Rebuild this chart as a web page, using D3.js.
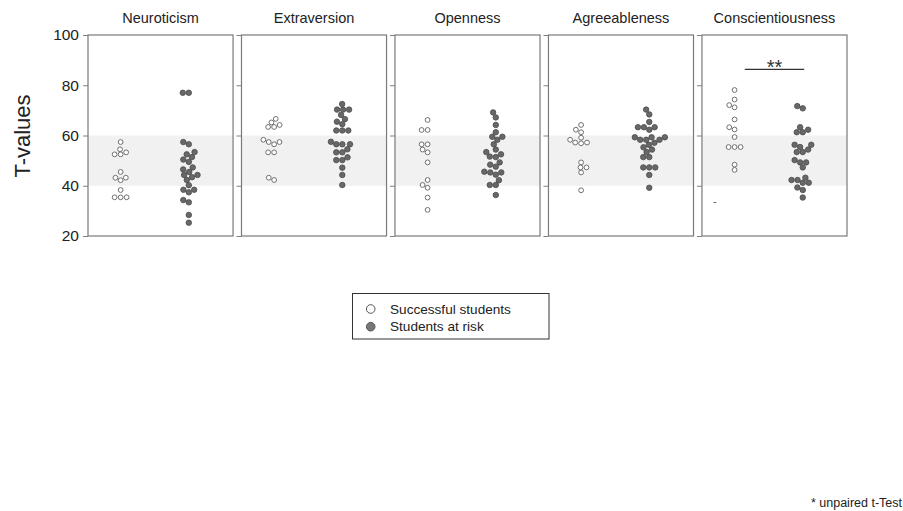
<!DOCTYPE html>
<html><head><meta charset="utf-8">
<script src="https://cdn.jsdelivr.net/npm/d3@7"></script>
<style>
html,body{margin:0;padding:0;background:#fff;}
svg{display:block;font-family:"Liberation Sans",Arial,sans-serif;}
</style></head>
<body>
<svg id="chart" width="903" height="511"></svg>
<script>
// ---- data ----
const traits = ["Neuroticism","Extraversion","Openness","Agreeableness","Conscientiousness"];
const groups = ["Successful students","Students at risk"];
const yTicks = [20,40,60,80,100];
const normBand = [40,60];

const successful = {
  Neuroticism:      [57.4,54.5,53.3,52.5,52.5,45.5,43.2,43.2,42.2,38.3,35.4,35.4,35.4],
  Extraversion:     [66.6,65.2,64.2,63.4,63.4,58.3,57.4,57.4,56.5,53.3,53.3,43.2,42.3],
  Openness:         [66.2,62.2,62.2,56.5,56.5,54.4,53.3,49.3,42.3,40.3,39.2,35.3,30.4],
  Agreeableness:    [64.2,62.3,61.3,59.1,58.3,57.2,57.2,56.9,49.3,47.3,47.3,45.3,38.2],
  Conscientiousness:[78.1,74.3,72.1,71.2,66.4,63.3,62.4,59.4,55.4,55.4,55.4,48.4,46.3]
};
const atRisk = {
  Neuroticism:      [77,77,57.4,56.5,53.4,52.5,51.4,50.4,49.5,47.3,46.5,45.5,44.3,44.3,43.4,42.3,40.2,38.4,38.4,37.4,34.3,33.4,28.4,25.3],
  Extraversion:     [72.5,70.3,70.3,70.3,68.2,66.5,65.5,64.5,62,62,62,57.5,56.5,56.5,56.5,54.5,53.3,53.3,51.3,50.2,50.2,47.2,44.3,40.3],
  Openness:         [69.2,67.2,64.2,61.3,59.5,59.5,58.3,56.5,54.4,53.4,52.5,51.6,51.4,49.3,48.4,47.6,45.6,45.3,45.3,44.4,42.2,40.3,40.3,36.3],
  Agreeableness:    [70.3,68.4,65.4,63.3,63.3,63.3,62.3,59.3,59.3,59.3,58.3,58.3,58.3,57.1,56.3,55.3,54.4,53.4,51.4,51.4,47.3,47.3,47.3,44.3,39.2],
  Conscientiousness:[71.7,70.8,63.3,62.3,61.3,61.3,56.3,56.3,55.4,54.4,53.4,53.4,50.2,49.3,49.3,47.3,43.2,42.3,42.3,41.2,41.2,39.3,38.3,35.3]
};
const significance = [{trait:"Conscientiousness", level:86.3, label:"**"}];
const footnote = "* unpaired t-Test";

// ---- layout ----
const svg = d3.select("#chart");
const y = d3.scaleLinear().domain([20,100]).range([236,35]);
const panel = d3.scaleBand().domain(traits).range([88,847]).paddingInner(0.055).paddingOuter(0);
const bw = panel.bandwidth();
const gx = d3.scalePoint().domain(groups).range([0.225*bw, 0.695*bw]);

function swarm(vals, dx, dy){
  const pts = vals.map(v=>({v, y:y(v)})).sort((a,b)=>a.v-b.v);
  const placed = [];
  pts.forEach(p=>{
    const near = placed.filter(q=>Math.abs(q.y-p.y) < dy);
    const cands = [0];
    near.forEach(q=>{
      const t = (q.y-p.y)/dy;
      const w = dx*Math.sqrt(1-t*t);
      cands.push(q.x - w, q.x + w);
    });
    cands.sort((a,b)=>Math.abs(a)-Math.abs(b) || a-b);
    let chosen = 0;
    for (const c of cands){
      const ok = near.every(q=>{
        const a=(q.x-c)/dx, b=(q.y-p.y)/dy;
        return a*a+b*b >= 0.999;
      });
      if (ok){ chosen=c; break; }
    }
    p.x = chosen;
    placed.push(p);
  });
  return placed;
}

traits.forEach((t,i)=>{
  const g = svg.append("g").attr("transform",`translate(${panel(t)},0)`);
  g.append("rect").attr("x",0).attr("width",bw)
    .attr("y",y(normBand[1])).attr("height",y(normBand[0])-y(normBand[1]))
    .attr("fill","#f1f1f1");
  const ax = d3.axisLeft(y).tickValues(yTicks).tickSize(5).tickSizeOuter(0)
    .tickFormat(i===0 ? d3.format("d") : "");
  const axg = g.append("g").call(ax);
  axg.select(".domain").remove();
  axg.selectAll(".tick line").attr("stroke","#808080").attr("stroke-width",1);
  axg.selectAll(".tick text").attr("font-size",15.5).attr("fill","#222")
     .attr("font-family","'Liberation Sans',Arial,sans-serif").attr("dx",-1);
  g.append("rect").attr("x",0).attr("y",y(100)).attr("width",bw).attr("height",y(20)-y(100))
    .attr("fill","none").attr("stroke","#7a7a7a").attr("stroke-width",1.2);
  g.append("text").attr("x",bw/2).attr("y",23).attr("text-anchor","middle")
    .attr("font-size",14.5).attr("fill","#222").text(t);
  const s = swarm(successful[t], 6, 5.05);
  g.selectAll("circle.s").data(s).join("circle").attr("class","s")
    .attr("cx",d=>gx(groups[0])+d.x).attr("cy",d=>d.y).attr("r",2.4)
    .attr("fill","#fff").attr("stroke","#707070").attr("stroke-width",1);
  const r = swarm(atRisk[t], 6, 5.6);
  g.selectAll("circle.r").data(r).join("circle").attr("class","r")
    .attr("cx",d=>gx(groups[1])+d.x).attr("cy",d=>d.y).attr("r",2.75)
    .attr("fill","#686868").attr("stroke","#4a4a4a").attr("stroke-width",0.8);
  significance.filter(d=>d.trait===t).forEach(d=>{
    const x1 = gx(groups[0])+0.07*bw, x2 = gx(groups[1])+0.01*bw;
    g.append("line").attr("x1",x1).attr("x2",x2).attr("y1",y(d.level)).attr("y2",y(d.level))
      .attr("stroke","#333").attr("stroke-width",1.2);
    g.append("text").attr("x",(x1+x2)/2).attr("y",y(d.level)+5).attr("text-anchor","middle")
      .attr("font-size",20).attr("fill","#333").text(d.label);
  });
  if (t==="Conscientiousness"){
    g.append("text").attr("x",13).attr("y",y(34)+4).attr("text-anchor","middle")
      .attr("font-size",11).attr("fill","#555").text("-");
  }
});

svg.append("text").attr("transform",`translate(30,136) rotate(-90)`)
  .attr("text-anchor","middle").attr("font-size",22).attr("fill","#222").text("T-values");

const lg = svg.append("g");
lg.append("rect").attr("x",352.5).attr("y",293.5).attr("width",196.5).attr("height",45.5)
  .attr("fill","#fff").attr("stroke","#333").attr("stroke-width",1);
groups.forEach((gname,i)=>{
  const cy = 309 + i*17.7;
  lg.append("circle").attr("cx",370.7).attr("cy",cy).attr("r",4.3)
    .attr("fill", i===0 ? "#fff" : "#777").attr("stroke","#555").attr("stroke-width",1);
  lg.append("text").attr("x",390).attr("y",cy).attr("dy","0.35em")
    .attr("font-size",13.6).attr("fill","#222").text(gname);
});

svg.append("text").attr("x",902).attr("y",503).attr("dy","0.35em").attr("text-anchor","end")
  .attr("font-size",12.5).attr("fill","#222").text(footnote);
</script>
</body></html>
